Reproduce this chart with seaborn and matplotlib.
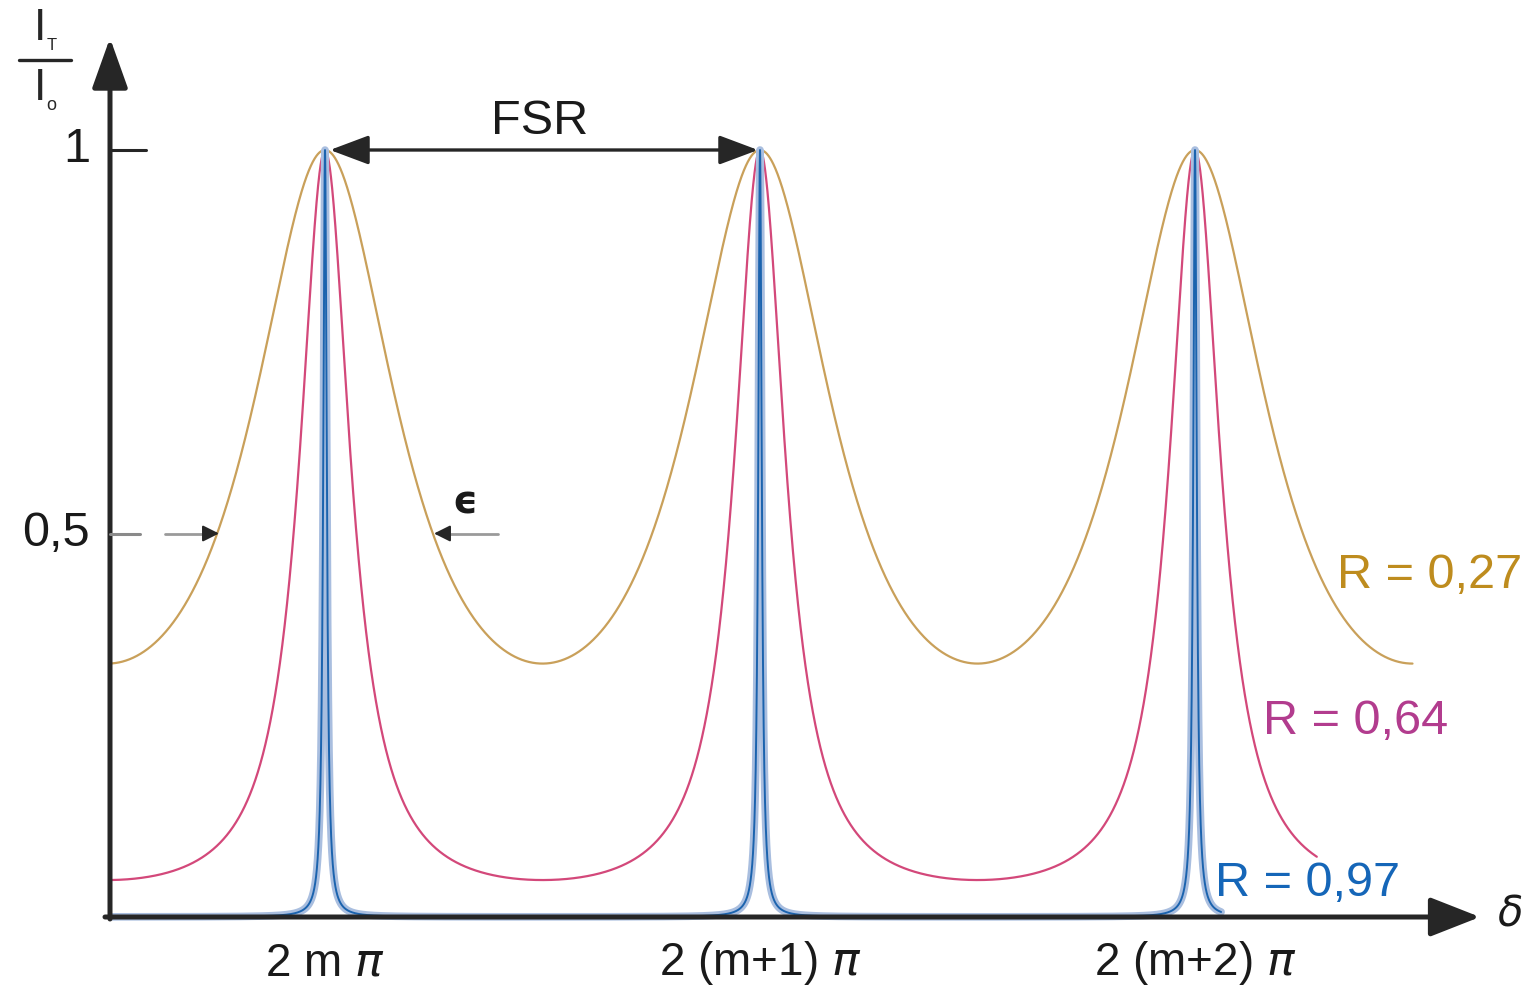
import numpy as np
import pandas as pd
import seaborn as sns
import matplotlib.pyplot as plt

# reflectivities shown in the chart and the curve colours
R_values = [0.27, 0.64, 0.97]
R_labels = ['R = 0,27', 'R = 0,64', 'R = 0,97']
line_colors = ['#C9A05A', '#D3487A', '#1B63AE']
text_colors = ['#BE8C1E', '#B23C8E', '#1566B8']
# extent of each curve, in orders (delta / 2pi, relative to 2 m pi)
x_start = [-0.49, -0.49, -0.49]
x_end = [2.50, 2.28, 2.06]
peak_labels = [r'2 m $\pi$', r'2 (m+1) $\pi$', r'2 (m+2) $\pi$']
peak_orders = [0, 1, 2]
ytick_values = [0.5, 1]
ytick_labels = ['0,5', '1']

W, H = 1534, 990
X0, Y0, PER, UNIT = 325, 917, 435, 767  # pixel layout of the drawing


def dx(px):
    return (px - X0) / PER


def dy(py):
    return (Y0 - py) / UNIT


sns.set_style('white')
plt.rcParams['font.family'] = ['Liberation Sans', 'DejaVu Sans']
plt.rcParams['mathtext.fontset'] = 'dejavusans'

fig = plt.figure(figsize=(W / 100, H / 100), dpi=100)
ax = fig.add_axes([0, 0, 1, 1])
ax.set_xlim(dx(0), dx(W))
ax.set_ylim(dy(H), dy(0))
ax.axis('off')

# Airy transmission curves
for R, c, a, b in zip(R_values, line_colors, x_start, x_end):
    order = np.linspace(a, b, 30000)
    F = 4 * R / (1 - R) ** 2
    T = 1 / (1 + F * np.sin(np.pi * order) ** 2)
    df = pd.DataFrame({'order': order, 'T': T})
    if R > 0.9:
        sns.lineplot(data=df, x='order', y='T', color='#A9BEDF', lw=5.5,
                     estimator=None, ax=ax, zorder=2)
        sns.lineplot(data=df, x='order', y='T', color=c, lw=1.4,
                     estimator=None, ax=ax, zorder=3)
    else:
        sns.lineplot(data=df, x='order', y='T', color=c, lw=1.6,
                     estimator=None, ax=ax, zorder=2)

axis_col = '#262626'
# axes with arrows
ax.annotate('', xy=(dx(1480), 0), xytext=(dx(105), 0),
            arrowprops=dict(arrowstyle='-|>,head_length=1.4,head_width=0.55',
                            lw=3.6, color=axis_col, mutation_scale=22,
                            shrinkA=0, shrinkB=0), zorder=5)
ax.annotate('', xy=(dx(110), dy(38)), xytext=(dx(110), dy(919)),
            arrowprops=dict(arrowstyle='-|>,head_length=1.4,head_width=0.5',
                            lw=3.6, color=axis_col, mutation_scale=22,
                            shrinkA=0, shrinkB=0), zorder=5)

# y ticks
ax.plot([dx(110), dx(146)], [1, 1], color=axis_col, lw=2.2, zorder=5)
ax.plot([dx(110), dx(140)], [0.5, 0.5], color='#8A8A8A', lw=2.2, zorder=5)
for v, lab in zip(ytick_values, ytick_labels):
    ax.text(dx(90), v, lab, fontsize=35, ha='right', va='center', color='#1a1a1a')

# x tick labels
for o, lab in zip(peak_orders, peak_labels):
    ax.text(o, dy(963), lab, fontsize=33, ha='center', va='center', color='#1a1a1a')
ax.text(dx(1510), dy(915), r'$\delta$', fontsize=30, ha='center',
        va='center', color='#1a1a1a')

# y axis label I_T / I_0
fig.text(40 / W, 1 - 28 / H, 'I', fontsize=32, ha='center', va='center')
fig.text(52 / W, 1 - 45 / H, 'T', fontsize=12, ha='center', va='center')
fig.text(40 / W, 1 - 88 / H, 'I', fontsize=32, ha='center', va='center')
fig.text(51 / W, 1 - 105 / H, 'o', fontsize=13, ha='center', va='center')
ax.plot([dx(19), dx(71)], [dy(60), dy(60)], color=axis_col, lw=2.4)

# FSR
ax.annotate('', xy=(dx(758), 1), xytext=(dx(330), 1),
            arrowprops=dict(arrowstyle='<|-|>,head_length=1.2,head_width=0.45',
                            lw=2.4, color=axis_col, mutation_scale=20,
                            shrinkA=0, shrinkB=0), zorder=6)
ax.text(dx(540), dy(122), 'FSR', fontsize=35, ha='center', va='center',
        color='#1a1a1a')

# epsilon (half width): grey shafts, dark heads
ax.plot([dx(165), dx(210)], [0.5, 0.5], color='#9A9A9A', lw=2.0, zorder=6)
ax.plot([dx(442), dx(498)], [0.5, 0.5], color='#9A9A9A', lw=2.0, zorder=6)
ax.annotate('', xy=(dx(219), 0.5), xytext=(dx(205), 0.5),
            arrowprops=dict(arrowstyle='-|>,head_length=0.7,head_width=0.35',
                            lw=1.5, color=axis_col, mutation_scale=14,
                            shrinkA=0, shrinkB=0), zorder=7)
ax.annotate('', xy=(dx(434), 0.5), xytext=(dx(448), 0.5),
            arrowprops=dict(arrowstyle='-|>,head_length=0.7,head_width=0.35',
                            lw=1.5, color=axis_col, mutation_scale=14,
                            shrinkA=0, shrinkB=0), zorder=7)
ax.text(dx(465), dy(503), 'ϵ', fontsize=28, fontweight='bold', ha='center',
        va='center', color='#1a1a1a', family=['DejaVu Sans'])

# R labels
label_pos = [(1337, 575), (1263, 722), (1215, 884)]
for (px, py), lab, c in zip(label_pos, R_labels, text_colors):
    ax.text(dx(px), dy(py), lab, fontsize=35, ha='left', va='center', color=c)

fig.savefig('out.png', dpi=100)
